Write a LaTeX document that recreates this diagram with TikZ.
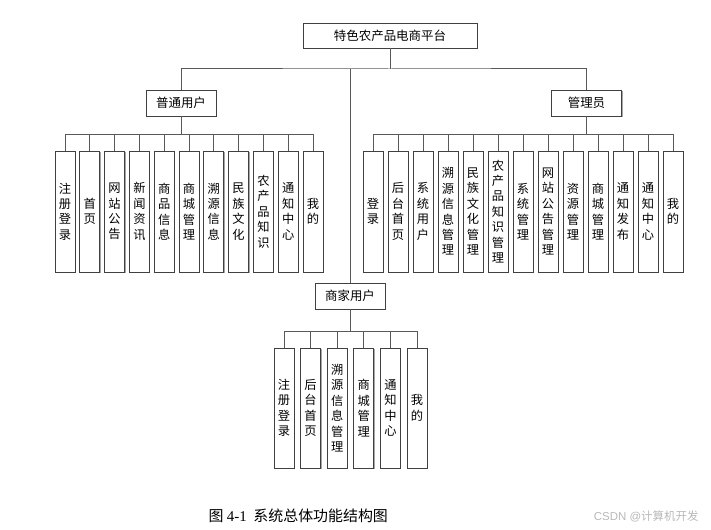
\documentclass[tikz,border=0pt]{standalone}
\usepackage{fontspec}
\setmainfont{Liberation Serif}
\setsansfont{Liberation Sans}
\newfontfamily\cjk{Noto Sans CJK SC}
\usetikzlibrary{
  calc,
  shadows
}
\tikzset{
  >=latex,
  head/.style={draw=black!75, fill=white, line width=0.8bp, inner sep=0pt,
    minimum width=70bp, minimum height=26bp,
    font=\cjk\fontsize{12.5}{14}\selectfont,
    drop shadow={shadow xshift=1bp, shadow yshift=-1bp, fill=black!35, opacity=1}},
  leaf/.style={draw=black!75, fill=white, line width=0.8bp, inner sep=0pt,
    minimum width=20bp, minimum height=121bp, align=center,
    font=\cjk\fontsize{12.3}{15.5}\selectfont,
    drop shadow={shadow xshift=1bp, shadow yshift=-1bp, fill=black!35, opacity=1}},
  link/.style={draw=black!65, line width=1bp}
}

\begin{document}
\begin{tikzpicture}[x=1bp, y=-1bp]
 \useasboundingbox (0,0) rectangle (711,530);

 \node[head, minimum width=174bp, minimum height=25bp] (root) at (390,35.5) {特色农产品电商平台};
 \node[head] (user) at (181,103) {普通用户};
 \node[head] (admin) at (586.5,103) {管理员};
 \node[head] (shop) at (350,296) {商家用户};

 \coordinate (hub) at (root.south |- 0,69);
 \draw[link] (root.south) -- (hub);
 \draw[link] (user.north) |- (hub) -| (admin.north);
 \draw[link] (shop.north) -- (shop.north |- hub);

 % 普通用户
 \foreach \t [count=\i] in {{注\\册\\登\\录},{首\\页},{网\\站\\公\\告},{新\\闻\\资\\讯},{商\\品\\信\\息},
   {商\\城\\管\\理},{溯\\源\\信\\息},{民\\族\\文\\化},{农\\产\\品\\知\\识},{通\\知\\中\\心},{我\\的}} {
   \node[leaf] (u\i) at ({65+24.8*(\i-1)},211.5) {\t};
   \draw[link] (user.south) -- (user.south |- 0,135) -| (u\i.north);
 }

 % 管理员
 \foreach \t [count=\i] in {{登\\录},{后\\台\\首\\页},{系\\统\\用\\户},{溯\\源\\信\\息\\管\\理},{民\\族\\文\\化\\管\\理},
   {农\\产\\品\\知\\识\\管\\理},{系\\统\\管\\理},{网\\站\\公\\告\\管\\理},{资\\源\\管\\理},{商\\城\\管\\理},
   {通\\知\\发\\布},{通\\知\\中\\心},{我\\的}} {
   \node[leaf] (a\i) at ({373+25*(\i-1)},211.5) {\t};
   \draw[link] (admin.south) -- (admin.south |- 0,135) -| (a\i.north);
 }

 % 商家用户
 \foreach \t [count=\i] in {{注\\册\\登\\录},{后\\台\\首\\页},{溯\\源\\信\\息\\管\\理},{商\\城\\管\\理},
   {通\\知\\中\\心},{我\\的}} {
   \node[leaf, minimum height=120bp] (s\i) at ({284+26.6*(\i-1)},408) {\t};
   \draw[link] (shop.south) -- (shop.south |- 0,331) -| (s\i.north);
 }

 \node[anchor=west, font=\fontsize{15}{17}\selectfont] (cap) at (205,516)
   {\cjk 图\ {\rmfamily 4-1}\ \ 系统总体功能结构图};
 \node[anchor=east, text=black!28, font=\fontsize{11.5}{13}\selectfont] (mark) at (702,516)
   {\sffamily CSDN @{\cjk 计算机开发}};
\end{tikzpicture}
\end{document}
